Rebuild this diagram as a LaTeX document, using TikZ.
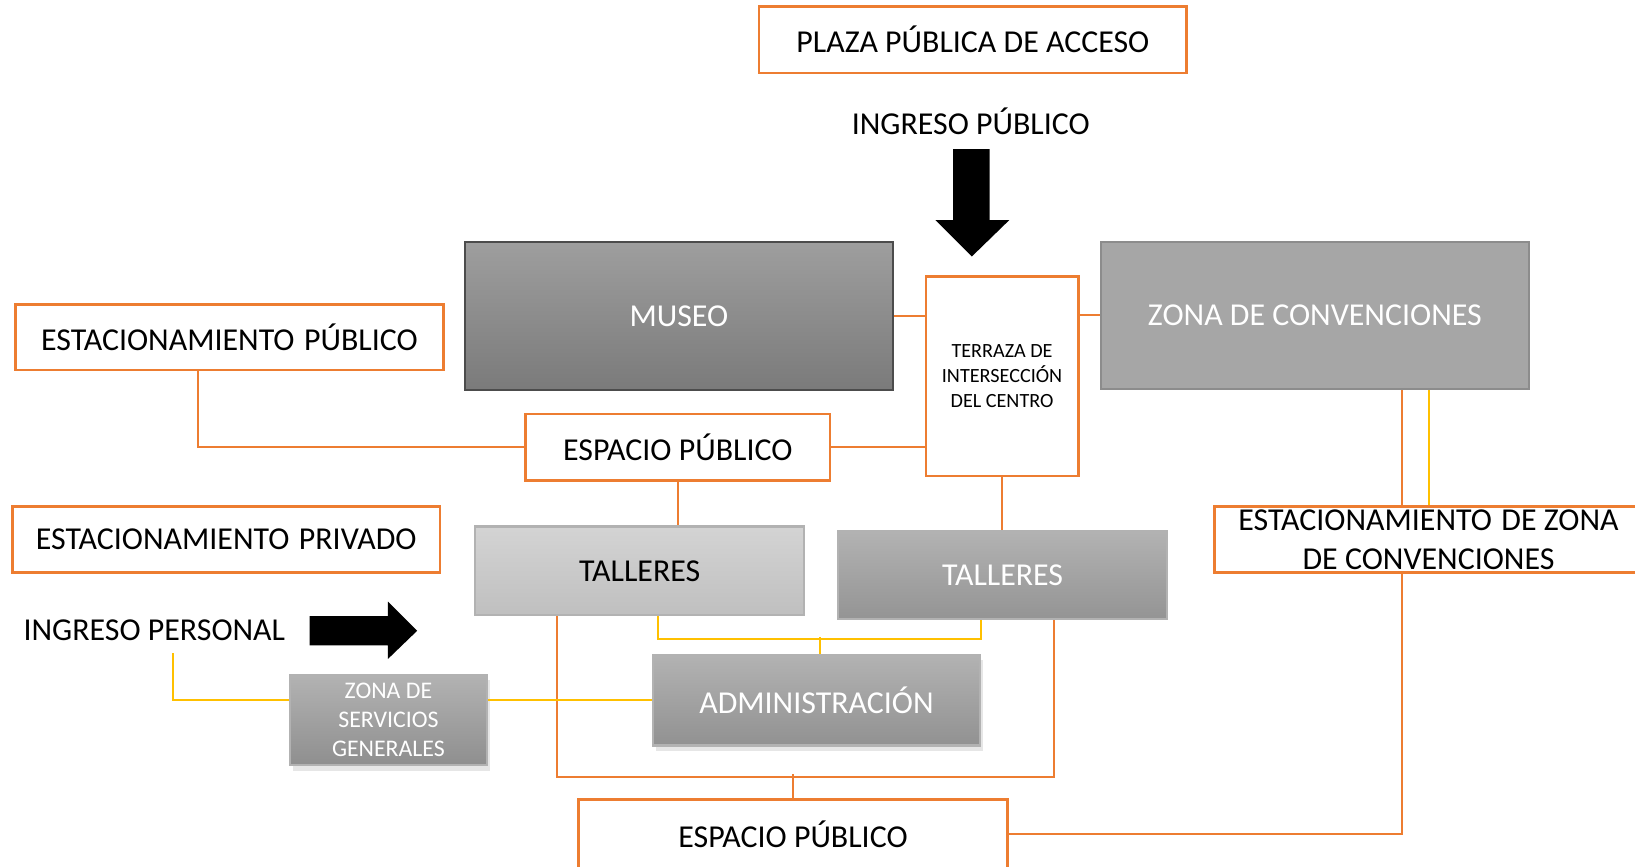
\documentclass[tikz,border=0pt]{standalone}
\usepackage{fontspec}
\setmainfont{Carlito}
\usepackage{xcolor}
\usetikzlibrary{positioning, calc, shadows}
\definecolor{naranja}{HTML}{ED7D31}
\definecolor{amarillo}{HTML}{FFC000}

\tikzset{
  caja/.style={draw=naranja, line width=0.7pt, fill=white, inner sep=0pt, align=center,
               font=\fontsize{8.7}{10.5}\selectfont},
  bloque/.style={draw=#1, line width=0.6pt, inner sep=0pt, align=center, text=white,
               font=\fontsize{8.7}{10.5}\selectfont},
  sombra/.style={drop shadow={opacity=0.2, shadow xshift=0.03cm, shadow yshift=-0.05cm}},
  lineaN/.style={draw=naranja, line width=0.55pt},
  lineaA/.style={draw=amarillo, line width=0.55pt},
}

\begin{document}
\begin{tikzpicture}[x=0.01cm, y=-0.01cm]

    \useasboundingbox (0,0) rectangle (1568,831);

    % --- Acceso ---
    \node[caja, minimum width=4.10cm, minimum height=0.64cm] (plaza) at (933,38) {PLAZA PÚBLICA DE ACCESO};
    \node[font=\fontsize{8.7}{10.5}\selectfont] (ingpub) at (931,116) {INGRESO PÚBLICO};
    \fill (914,143) -- (949,143) -- (949,211) -- (968,211) -- (932,246) -- (897,211) -- (914,211) -- cycle;

    % --- Bloques principales ---
    \node[bloque=black!70, top color=black!38, bottom color=black!52,
          minimum width=4.10cm, minimum height=1.42cm] (museo) at (651,303) {MUSEO};
    \node[caja, minimum width=1.46cm, minimum height=1.91cm,
          font=\fontsize{5.5}{6.8}\selectfont] (terraza) at (961,361) {TERRAZA DE\\INTERSECCIÓN\\DEL CENTRO};
    \node[bloque=black!45, fill=black!35,
          minimum width=4.10cm, minimum height=1.41cm] (zonaconv) at (1261,302.5) {ZONA DE CONVENCIONES};

    % --- Estacionamientos y espacios ---
    \node[caja, minimum width=4.10cm, minimum height=0.63cm] (estpub) at (220,323.5) {ESTACIONAMIENTO\hspace{0.3em}PÚBLICO};
    \node[caja, minimum width=2.92cm, minimum height=0.64cm] (esppub) at (650,429) {ESPACIO PÚBLICO};
    \node[caja, minimum width=4.10cm, minimum height=0.63cm] (estpriv) at (217,517.5) {ESTACIONAMIENTO\hspace{0.3em}PRIVADO};
    \node[caja, minimum width=4.10cm, minimum height=0.63cm] (estzc) at (1370,517.5) {ESTACIONAMIENTO\hspace{0.3em}DE ZONA\\DE CONVENCIONES};
    \node[caja, minimum width=4.11cm, minimum height=0.66cm] (espinf) at (760.5,800) {ESPACIO PÚBLICO};

    % --- Talleres y servicios ---
    \node[bloque=black!30, top color=black!17, bottom color=black!25, text=black,
          minimum width=3.15cm, minimum height=0.85cm] (tallerA) at (613.5,547.5) {TALLERES};
    \node[bloque=black!30, top color=black!30, bottom color=black!42,
          minimum width=3.15cm, minimum height=0.85cm] (tallerB) at (961.5,551.5) {TALLERES};
    \node[bloque=black!30, sombra, top color=black!30, bottom color=black!43,
          minimum width=3.14cm, minimum height=0.87cm] (admin) at (783,671.5) {ADMINISTRACIÓN};
    \node[bloque=black!30, sombra, top color=black!30, bottom color=black!44,
          minimum width=1.89cm, minimum height=0.87cm,
          font=\fontsize{6.5}{8}\selectfont] (servicios) at (372.5,690.5) {ZONA DE\\SERVICIOS\\GENERALES};

    % --- Ingreso personal ---
    \node[font=\fontsize{8.7}{10.5}\selectfont] (ingpers) at (148,604) {INGRESO PERSONAL};
    \fill (297,591) -- (372,591) -- (372,577) -- (400,605) -- (372,632) -- (372,619) -- (297,619) -- cycle;

    % --- Conexiones naranja ---
    \draw[lineaN] (museo.east) -- (museo.east -| terraza.west);
    \draw[lineaN] (terraza.east |- zonaconv.west) -- (zonaconv.west);
    \draw[lineaN] ([xshift=-0.30cm]estpub.south) |- (esppub.west);
    \draw[lineaN] (esppub.east) -- (esppub.east -| terraza.west);
    \draw[lineaN] (esppub.south) -- (esppub.south |- tallerA.north);
    \draw[lineaN] (terraza.south) -- (terraza.south |- tallerB.north);
    \draw[lineaN] ([xshift=-0.25cm]zonaconv.south -| estzc.north) -- ([xshift=-0.25cm]estzc.north);
    \draw[lineaN] ([xshift=-0.25cm]estzc.south) |- (espinf.east);
    \draw[lineaN] ([xshift=-0.795cm]tallerA.south) -- ++(0,154) -| ([xshift=0.495cm]tallerB.south);
    \draw[lineaN] (espinf.north) -- ++(0,-23);

    % --- Conexiones amarillas ---
    \draw[lineaA] (zonaconv.south -| estzc.north) -- (estzc.north);
    \draw[lineaA] ([xshift=0.175cm]tallerA.south) -- ++(0,22) -| ([xshift=-0.205cm]tallerB.south);
    \draw[lineaA] ([xshift=0.03cm]admin.north) -- ++(0,-16);
    \draw[lineaA] ([xshift=0.18cm]ingpers.south) |- (servicios.west |- admin.west);
    \draw[lineaA] (servicios.east |- admin.west) -- (admin.west);

\end{tikzpicture}
\end{document}
